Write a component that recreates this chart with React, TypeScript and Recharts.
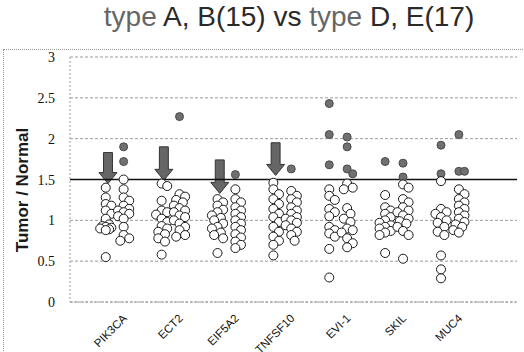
import React from "react";
import {
    CartesianGrid,
    ReferenceArea,
    ReferenceLine,
    Scatter,
    ScatterChart,
    XAxis,
    YAxis,
} from "recharts";

const genes = ['PIK3CA', 'ECT2', 'EIF5A2', 'TNFSF10', 'EVI-1', 'SKIL', 'MUC4'];

// type A, B (15 cases), one list per gene
const typeAB = [
    [1.40, 1.28, 1.20, 1.18, 1.12, 1.08, 1.02, 0.95, 0.93, 0.92, 0.91, 0.90, 0.89, 0.88, 0.55],
    [1.45, 1.42, 1.24, 1.12, 1.10, 1.07, 1.02, 0.98, 0.93, 0.90, 0.86, 0.83, 0.78, 0.74, 0.58],
    [1.26, 1.22, 1.18, 1.13, 1.10, 1.06, 1.03, 1.00, 0.96, 0.92, 0.90, 0.85, 0.82, 0.78, 0.60],
    [1.46, 1.38, 1.32, 1.26, 1.20, 1.14, 1.08, 1.04, 0.98, 0.92, 0.86, 0.80, 0.75, 0.70, 0.57],
    [2.43, 2.05, 1.68, 1.38, 1.30, 1.25, 1.14, 1.10, 1.05, 0.92, 0.88, 0.84, 0.80, 0.65, 0.30],
    [1.72, 1.31, 1.16, 1.12, 1.08, 1.04, 1.00, 0.97, 0.94, 0.92, 0.90, 0.87, 0.85, 0.82, 0.60],
    [1.92, 1.57, 1.48, 1.14, 1.10, 1.08, 1.04, 1.00, 0.97, 0.92, 0.86, 0.82, 0.57, 0.40, 0.29],
];

// type D, E (17 cases)
const typeDE = [
    [1.90, 1.72, 1.50, 1.38, 1.28, 1.24, 1.18, 1.14, 1.12, 1.10, 1.08, 1.05, 1.02, 0.92, 0.82, 0.78, 0.75],
    [2.27, 1.32, 1.29, 1.25, 1.22, 1.18, 1.15, 1.12, 1.10, 1.06, 1.04, 1.00, 0.96, 0.92, 0.88, 0.82, 0.80],
    [1.56, 1.38, 1.26, 1.22, 1.16, 1.12, 1.08, 1.04, 1.00, 0.96, 0.92, 0.88, 0.83, 0.79, 0.74, 0.70, 0.66],
    [1.63, 1.36, 1.30, 1.26, 1.22, 1.16, 1.12, 1.08, 1.04, 1.02, 1.00, 0.97, 0.94, 0.90, 0.86, 0.82, 0.75],
    [2.02, 1.90, 1.63, 1.57, 1.45, 1.40, 1.38, 1.15, 1.08, 1.02, 0.98, 0.90, 0.88, 0.85, 0.78, 0.72, 0.67],
    [1.70, 1.53, 1.44, 1.40, 1.26, 1.22, 1.16, 1.12, 1.10, 1.06, 1.02, 0.99, 0.96, 0.92, 0.87, 0.82, 0.53],
    [2.05, 1.60, 1.60, 1.38, 1.32, 1.26, 1.22, 1.18, 1.14, 1.10, 1.06, 1.02, 0.98, 0.95, 0.92, 0.88, 0.85],
];

// down arrows drawn over the type A, B column
const arrowGenes = ['PIK3CA', 'ECT2', 'EIF5A2', 'TNFSF10'];
const arrowTop = [1.83, 1.90, 1.74, 1.95];
const arrowBottom = [1.45, 1.49, 1.33, 1.55];

const yTicks = [0, 0.5, 1, 1.5, 2, 2.5, 3];
const cutoff = 1.5;

const COL = 0.16;

// small beeswarm so overlapping circles spread sideways a little
function swarm(values: number[], center: number) {
    const placed: { x: number, y: number }[] = [];
    const offsets = [0, 0.06, -0.06, 0.1, -0.1];
    [...values].sort((a, b) => b - a).forEach(v => {
        let best = 0, bestD = -1;
        for (const o of offsets) {
            let d = Infinity;
            placed.forEach(p => {
                const dx = (p.x - (center + o)) * 56, dy = (p.y - v) * 82;
                d = Math.min(d, Math.sqrt(dx * dx + dy * dy));
            });
            if (d >= 6) { best = o; bestD = d; break; }
            if (d > bestD) { best = o; bestD = d; }
        }
        placed.push({x: center + best, y: v});
    });
    return placed;
}

const abPoints = typeAB.flatMap((vals, i) => swarm(vals, i + 1 - COL));
const dePoints = typeDE.flatMap((vals, i) => swarm(vals, i + 1 + COL));

function Dot(props: any) {
    const {cx, cy, payload} = props;
    const high = payload.y > cutoff;
    return <circle cx={cx} cy={cy} r={high ? 4 : 4.5}
                   fill={high ? '#707070' : '#fff'}
                   stroke={high ? '#4a4a4a' : '#1a1a1a'}
                   strokeWidth={1}/>;
}

function Arrow(props: any) {
    const {x, y, width, height} = props;
    const cx = x + width / 2;
    const head = 11;
    const hw = 9;
    const bottom = y + height;
    const d = `M${x},${y} L${x + width},${y} L${x + width},${bottom - head} L${cx + hw},${bottom - head}
               L${cx},${bottom} L${cx - hw},${bottom - head} L${x},${bottom - head} Z`;
    return <path d={d} fill="#666" stroke="#333" strokeWidth={1}/>;
}

function GeneTick(props: any) {
    const {x, y, payload} = props;
    const ax = x + 13, ay = y + 9;
    return <text x={ax} y={ay} textAnchor="end" fontSize={11.5} fill="#111"
                 fontFamily="'Liberation Sans', Arial, sans-serif"
                 transform={`rotate(-45 ${ax} ${ay})`}>
        {genes[payload.value - 1]}
    </text>;
}

function ValueTick(props: any) {
    const {y, payload} = props;
    return <text x={55} y={y + 5} textAnchor="end" fontSize={14} fill="#111"
                 fontFamily="'Liberation Serif', 'Times New Roman', serif">
        {payload.value}
    </text>;
}

export default function App() {
    return (
        <div style={{position: 'absolute', left: 0, top: 0, width: 524, height: 352, background: '#fff'}}>
            <div style={{
                position: 'absolute', left: 3, top: 49, width: 521, height: 303,
                borderTop: '1px dotted #999', borderLeft: '1px dotted #999'
            }}/>
            <div style={{
                position: 'absolute', left: 0, width: 578, top: 1, textAlign: 'center',
                fontFamily: "'Liberation Sans', Arial, sans-serif", fontSize: 28, color: '#2a2a2a',
                whiteSpace: 'nowrap'
            }}>
                <span style={{color: '#666'}}>type</span> A, B(15) vs <span style={{color: '#666'}}>type</span> D, E(17)
            </div>
            <div style={{
                position: 'absolute', left: 23, top: 190, transform: 'translate(-50%, -50%) rotate(-90deg)',
                fontFamily: "'Liberation Sans', Arial, sans-serif", fontSize: 17, fontWeight: 'bold',
                color: '#1a1a1a', whiteSpace: 'nowrap'
            }}>
                Tumor / Normal
            </div>
            <ScatterChart width={524} height={352}
                          margin={{top: 57, right: 7, bottom: 5, left: 10}}
                          style={{position: 'absolute', left: 0, top: 0}}>
                <CartesianGrid vertical={false} stroke="#9a9a9a" strokeDasharray="3 2"/>
                <XAxis type="number" dataKey="x" domain={[0.2, 8.2]} ticks={[1, 2, 3, 4, 5, 6, 7]}
                       height={45} tickLine={false} axisLine={{stroke: '#999', strokeDasharray: '2 2'}}
                       tick={<GeneTick/>} interval={0} allowDataOverflow/>
                <YAxis type="number" dataKey="y" domain={[0, 3]} ticks={yTicks} width={60}
                       tickLine={false} axisLine={{stroke: '#999', strokeDasharray: '2 2'}}
                       tick={<ValueTick/>} interval={0}/>
                <ReferenceLine y={cutoff} stroke="#111" strokeWidth={1.5}/>
                <Scatter data={abPoints} shape={<Dot/>} isAnimationActive={false}/>
                <Scatter data={dePoints} shape={<Dot/>} isAnimationActive={false}/>
                {arrowGenes.map((g, i) => {
                    const cx = genes.indexOf(g) + 1 - COL + 0.04;
                    return <ReferenceArea key={g} x1={cx - 0.08} x2={cx + 0.08}
                                          y1={arrowBottom[i]} y2={arrowTop[i]}
                                          shape={<Arrow/>}/>;
                })}
            </ScatterChart>
        </div>
    );
}
